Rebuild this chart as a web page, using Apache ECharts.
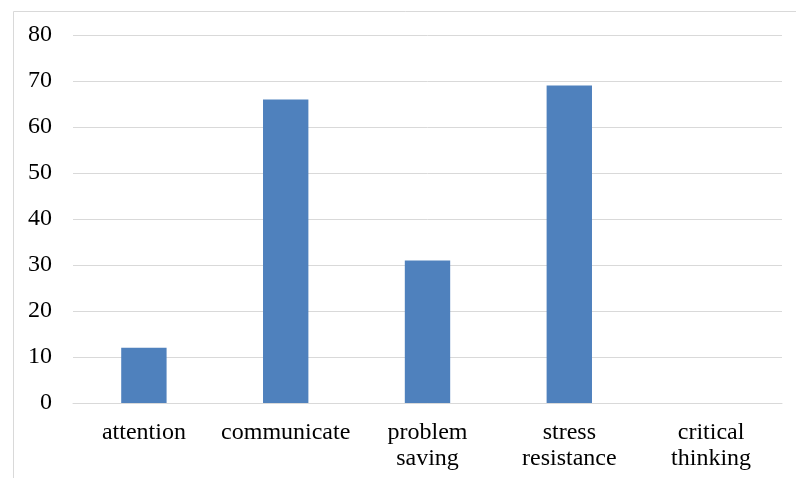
<!DOCTYPE html>
<html>
<head>
<meta charset="utf-8">
<script src="https://cdn.jsdelivr.net/npm/echarts@6/dist/echarts.min.js"></script>
<style>
html,body{margin:0;padding:0;background:#fff;}
#c{width:796px;height:478px;}
</style>
</head>
<body>
<div id="c"></div>
<script>
var categories = ["attention", "communicate", "problem\nsaving", "stress\nresistance", "critical\nthinking"];
var values = [12, 66, 31, 69, 0];
var yTicks = {min: 0, max: 80, interval: 10};

var chart = echarts.init(document.getElementById('c'), null, {renderer: 'canvas'});
var font = '"Liberation Serif", "Times New Roman", serif';
chart.setOption({
  animation: false,
  backgroundColor: '#ffffff',
  grid: {left: 73, right: 14, top: 35, bottom: 75, containLabel: false},
  graphic: [{
    type: 'rect',
    shape: {x: 13.5, y: 11.5, width: 820, height: 520},
    style: {fill: 'none', stroke: '#d9d9d9', lineWidth: 1},
    silent: true
  }],
  xAxis: {
    type: 'category',
    data: categories,
    axisLine: {show: true, lineStyle: {color: '#d9d9d9', width: 1}},
    axisTick: {show: false},
    axisLabel: {
      color: '#000', fontFamily: font, fontSize: 24, lineHeight: 26, margin: 17,
      interval: 0
    }
  },
  yAxis: {
    type: 'value',
    min: yTicks.min, max: yTicks.max, interval: yTicks.interval,
    axisLine: {show: false},
    axisTick: {show: false},
    splitLine: {lineStyle: {color: '#d9d9d9', width: 1}},
    axisLabel: {color: '#000', fontFamily: font, fontSize: 24, margin: 21}
  },
  series: [{
    type: 'bar',
    data: values,
    barWidth: '32%',
    itemStyle: {color: '#4f81bd'}
  }]
});
</script>
</body>
</html>
